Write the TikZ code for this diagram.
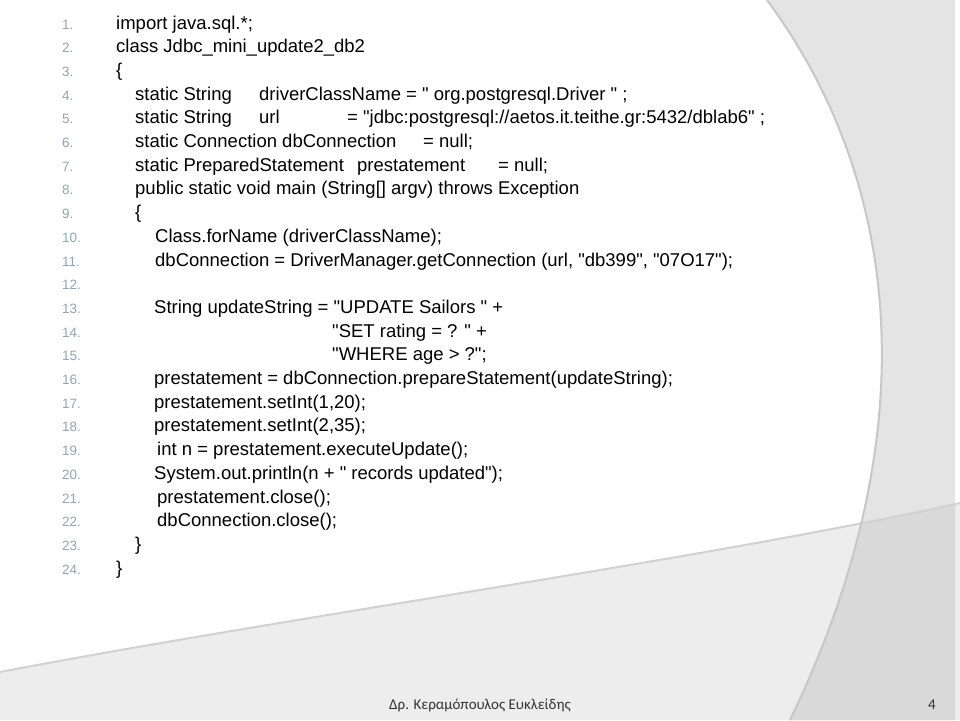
\documentclass[tikz,border=0pt]{standalone}
\usepackage{fontspec}
\setmainfont{Liberation Sans}[Ligatures=TeXOff]
\newfontfamily\footfont{Carlito}
\definecolor{numc}{HTML}{8FA6B4}
\definecolor{bandA}{HTML}{EDEDED}
\definecolor{bandB}{HTML}{E4E4E4}
\definecolor{bandC}{HTML}{D9D9D9}
\tikzset{
  code/.style={anchor=base west,inner sep=0,font=\fontsize{18.5}{18.5}\selectfont},
  num/.style={anchor=base west,inner sep=0,font=\fontsize{13.5}{13.5}\selectfont,text=numc},
  foot/.style={anchor=base,inner sep=0,font=\footfont\fontsize{15}{15}\selectfont,text=black!80}
}
\begin{document}
\begin{tikzpicture}[x=1pt,y=-1pt]
\useasboundingbox (0,0) rectangle (960,720);
\fill[white] (0,0) rectangle (960,720);
% background swooshes
\fill[bandA] (0,672) .. controls (300,615) and (700,560) .. (960,503) -- (960,720) -- (0,720) -- cycle;
\fill[bandB] (767,0) .. controls (900,180) and (930,430) .. (790,720) -- (955,720) -- (955,0) -- cycle;
\begin{scope}
\clip (0,672) .. controls (300,615) and (700,560) .. (960,503) -- (960,720) -- (0,720) -- cycle;
\fill[bandC] (767,0) .. controls (900,180) and (930,430) .. (790,720) -- (955,720) -- (955,0) -- cycle;
\end{scope}
\draw[black!18,line width=2pt] (0,672) .. controls (300,615) and (700,560) .. (960,503);
\draw[black!22,line width=2pt] (767,0) .. controls (900,180) and (930,430) .. (790,720);
% line numbers
\foreach \i in {1,...,24}{
  \node[num] (n\i) at (62,{29+23.7*(\i-1)}) {\i.};
}
\def\Y#1{{29+23.7*(#1-1)}}
\node[code] (l1) at (116,\Y{1}) {import java.sql.*;};
\node[code] (l2) at (116,\Y{2}) {class Jdbc\_mini\_update2\_db2};
\node[code] (l3) at (116,\Y{3}) {\{};
\node[code] (l4a) at (135,\Y{4}) {static String};
\node[code] (l4b) at (259,\Y{4}) {driverClassName = " org.postgresql.Driver " ;};
\node[code] (l5a) at (135,\Y{5}) {static String};
\node[code] (l5b) at (259,\Y{5}) {url};
\node[code] (l5c) at (347,\Y{5}) {= "jdbc:postgresql://aetos.it.teithe.gr:5432/dblab6" ;};
\node[code] (l6a) at (135,\Y{6}) {static Connection dbConnection};
\node[code] (l6b) at (423,\Y{6}) {= null;};
\node[code] (l7a) at (135,\Y{7}) {static PreparedStatement};
\node[code] (l7b) at (357,\Y{7}) {prestatement};
\node[code] (l7c) at (498,\Y{7}) {= null;};
\node[code] (l8) at (135,\Y{8}) {public static void main (String[] argv) throws Exception};
\node[code] (l9) at (135,\Y{9}) {\{};
\node[code] (l10) at (155,\Y{10}) {Class.forName (driverClassName);};
\node[code] (l11) at (155,\Y{11}) {dbConnection = DriverManager.getConnection (url, "db399", "07O17");};
\node[code] (l13) at (154,\Y{13}) {String updateString = "UPDATE Sailors " +};
\node[code] (l14) at (332,\Y{14}) {"SET rating = ? " +};
\node[code] (l15) at (332,\Y{15}) {"WHERE age > ?";};
\node[code] (l16) at (154,\Y{16}) {prestatement = dbConnection.prepareStatement(updateString);};
\node[code] (l17) at (154,\Y{17}) {prestatement.setInt(1,20);};
\node[code] (l18) at (154,\Y{18}) {prestatement.setInt(2,35);};
\node[code] (l19) at (157,\Y{19}) {int n = prestatement.executeUpdate();};
\node[code] (l20) at (154,\Y{20}) {System.out.println(n + " records updated");};
\node[code] (l21) at (157,\Y{21}) {prestatement.close();};
\node[code] (l22) at (157,\Y{22}) {dbConnection.close();};
\node[code] (l23) at (135,\Y{23}) {\}};
\node[code] (l24) at (116,\Y{24}) {\}};
% footer
\node[foot] (author) at (480,709) {Δρ. Κεραμόπουλος Ευκλείδης};
\node[foot] (page) at (932,709) {4};
\end{tikzpicture}
\end{document}
